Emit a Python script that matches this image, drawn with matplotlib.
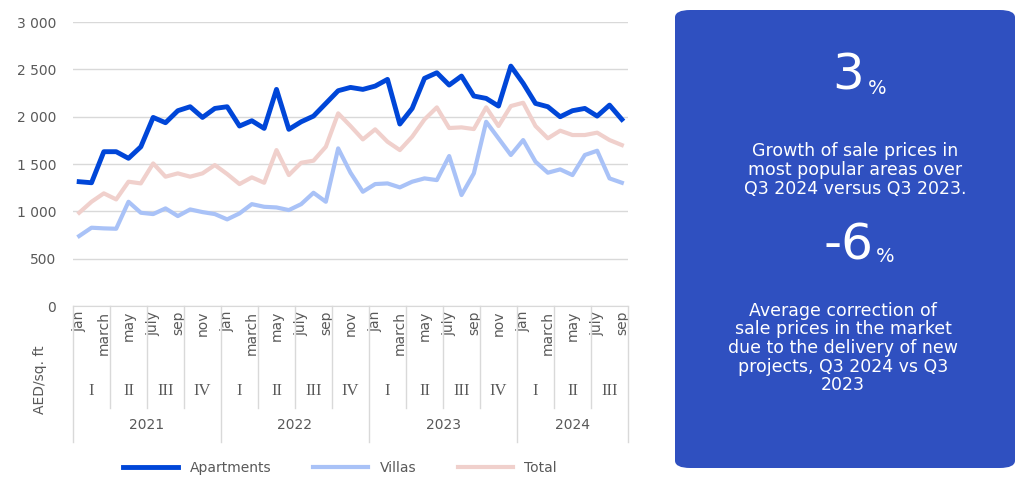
import matplotlib.pyplot as plt
from matplotlib.patches import FancyBboxPatch
import matplotlib.transforms as mtransforms

months = ["jan", "", "march", "", "may", "", "july", "", "sep", "", "nov", ""]
quarters = ["I", "II", "III", "IV"]
years = ["2021", "2022", "2023", "2024"]

apartments = [1313, 1302, 1630, 1630, 1560, 1682, 1992, 1936, 2063, 2105, 1992, 2087,
              2105, 1901, 1957, 1876, 2288, 1866, 1946, 2006, 2140, 2274, 2309, 2288,
              2323, 2394, 1922, 2087, 2405, 2464, 2334, 2429, 2218, 2193, 2112, 2534,
              2352, 2140, 2105, 1999, 2063, 2087, 2006, 2122, 1971]
villas = [739, 827, 820, 816, 1101, 985, 971, 1031, 950, 1020, 992, 971,
          915, 978, 1076, 1048, 1041, 1013, 1076, 1196, 1101, 1665, 1408, 1207,
          1288, 1295, 1253, 1313, 1348, 1330, 1584, 1172, 1401, 1946, 1771, 1595,
          1753, 1524, 1408, 1443, 1383, 1595, 1640, 1348, 1302]
total = [985, 1101, 1190, 1126, 1313, 1295, 1506, 1366, 1401, 1366, 1401, 1489,
         1394, 1288, 1359, 1302, 1647, 1383, 1513, 1535, 1682, 2035, 1901, 1760,
         1866, 1735, 1647, 1788, 1971, 2098, 1880, 1887, 1869, 2098, 1901, 2112,
         2147, 1901, 1771, 1852, 1806, 1806, 1831, 1753, 1700]

n = len(apartments)
x = list(range(n))
gray = "#595959"
linec = "#d9d9d9"

fig = plt.figure(figsize=(10.24, 4.9), dpi=100)
ax = fig.add_axes([73 / 1024, 1 - 306 / 490, 555 / 1024, 284 / 490])

ax.plot(x, total, color="#f0d0cc", lw=3, label="Total", zorder=2)
ax.plot(x, villas, color="#a9c2f7", lw=3, label="Villas", zorder=3)
ax.plot(x, apartments, color="#0046d8", lw=3.5, label="Apartments", zorder=4)

ax.set_xlim(-0.5, n - 0.5)
ax.set_ylim(0, 3000)
ax.set_yticks(range(0, 3001, 500))
ax.set_yticklabels([f"{v:,}".replace(",", " ") for v in range(0, 3001, 500)],
                   color=gray, fontsize=10)
ax.grid(axis="y", color=linec, lw=1)
ax.set_axisbelow(True)
for s in ["left", "right", "top"]:
    ax.spines[s].set_visible(False)
ax.spines["bottom"].set_color(linec)
ax.tick_params(axis="y", length=0, pad=12)
ax.tick_params(axis="x", length=0)

# multi-level category axis
month_labels = [months[i % 12] for i in range(n)]
ax.set_xticks([i for i in x if month_labels[i]])
ax.set_xticklabels([m for m in month_labels if m], rotation=90, color=gray,
                   fontsize=10, va="top")
trans = mtransforms.blended_transform_factory(ax.transData, ax.transAxes)
m_row, q_row, y_row = -0.243, -0.359, -0.479
for q in range(0, n + 1, 3):
    xb = min(q, n) - 0.5
    bottom = y_row if (q % 12 == 0 or q >= n) else q_row
    ax.plot([xb, xb], [0, bottom], transform=trans, color=linec, lw=1, clip_on=False)
for q in range(0, n, 3):
    ax.text(q + 1, (m_row + q_row) / 2, quarters[(q // 3) % 4], transform=trans,
            ha="center", va="center", color=gray, fontsize=12, family="Liberation Serif")
for k, yr in enumerate(years):
    start = k * 12
    end = min(start + 12, n)
    ax.text((start + end - 1) / 2, (q_row + y_row) / 2, yr, transform=trans,
            ha="center", va="center", color=gray, fontsize=10)

fig.text(40 / 1024, 1 - 380 / 490, "AED/sq. ft", rotation=90, ha="center",
         va="center", color=gray, fontsize=10)

h, l = ax.get_legend_handles_labels()
order = [2, 1, 0]
fig.legend([h[i] for i in order], [l[i] for i in order], loc="center",
           bbox_to_anchor=(340 / 1024, 1 - 468 / 490), ncol=3, frameon=False,
           fontsize=10, labelcolor=gray, handlelength=4, columnspacing=3)

# right info panel
panel = FancyBboxPatch((675 / 1024, 1 - 468 / 490), 340 / 1024, 458 / 490,
                       boxstyle="round,pad=0,rounding_size=0.015",
                       transform=fig.transFigure, facecolor="#2f50c0",
                       edgecolor="none")
fig.add_artist(panel)
cx = 848 / 1024
fig.text(cx, 1 - 75 / 490, "3", color="white", fontsize=36, ha="center", va="center")
fig.text(cx + 20 / 1024, 1 - 88 / 490, "%", color="white", fontsize=14, ha="left", va="center")
fig.text(855 / 1024, 1 - 170 / 490,
         "Growth of sale prices in\nmost popular areas over\nQ3 2024 versus Q3 2023.",
         color="white", fontsize=12.5, ha="center", va="center", linespacing=1.05)
fig.text(cx, 1 - 245 / 490, "-6", color="white", fontsize=36, ha="center", va="center")
fig.text(cx + 28 / 1024, 1 - 257 / 490, "%", color="white", fontsize=14, ha="left", va="center")
fig.text(843 / 1024, 1 - 348 / 490,
         "Average correction of\nsale prices in the market\ndue to the delivery of new\nprojects, Q3 2024 vs Q3\n2023",
         color="white", fontsize=12.5, ha="center", va="center", linespacing=1.05)

fig.savefig("out.png", dpi=100)
